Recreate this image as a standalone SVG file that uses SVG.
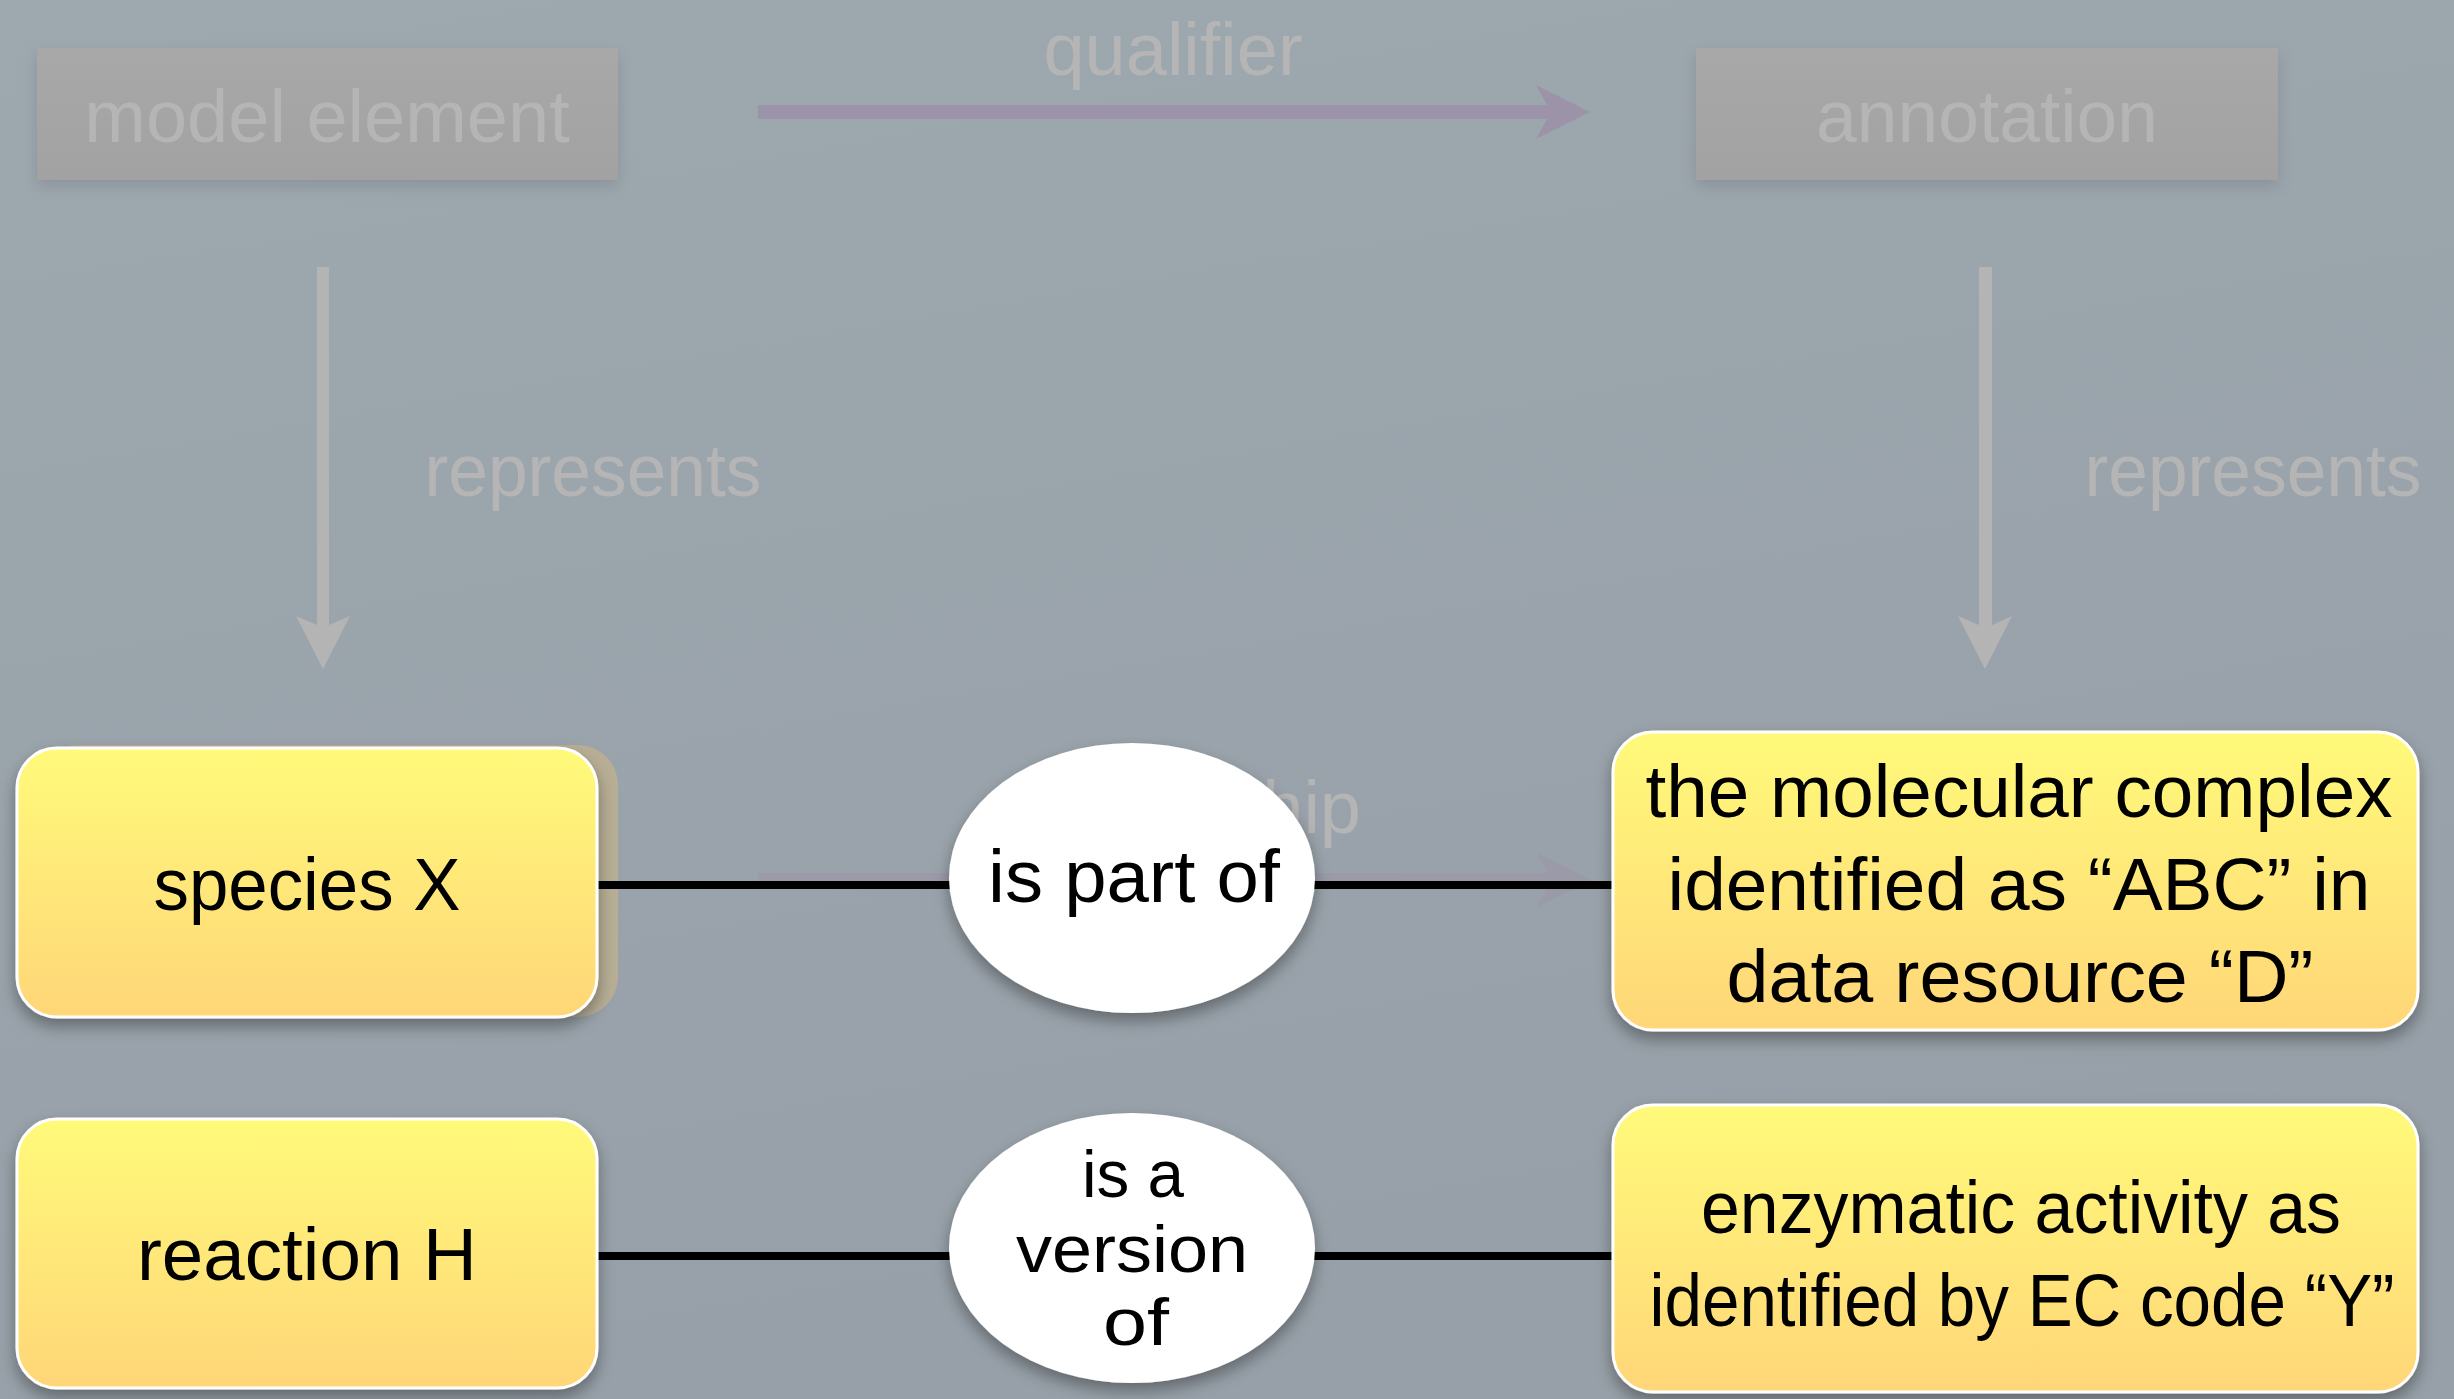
<svg xmlns="http://www.w3.org/2000/svg" width="2454" height="1399" viewBox="0 0 2454 1399">
<defs>
<linearGradient id="bg" x1="0" y1="0" x2="0.3" y2="1">
<stop offset="0" stop-color="#9ea8af"/>
<stop offset="1" stop-color="#97a0a8"/>
</linearGradient>
<linearGradient id="yel" x1="0" y1="0" x2="0" y2="1">
<stop offset="0" stop-color="#fffa7a"/>
<stop offset="1" stop-color="#ffd678"/>
</linearGradient>
<linearGradient id="gry" x1="0" y1="0" x2="0" y2="1">
<stop offset="0" stop-color="#a8a8a8"/>
<stop offset="1" stop-color="#a2a2a2"/>
</linearGradient>
<filter id="sh" x="-10%" y="-10%" width="120%" height="130%">
<feDropShadow dx="0" dy="8" stdDeviation="8" flood-color="#000" flood-opacity="0.35"/>
</filter>
<filter id="shl" x="-10%" y="-10%" width="120%" height="130%">
<feDropShadow dx="0" dy="6" stdDeviation="8" flood-color="#000" flood-opacity="0.12"/>
</filter>
<style>
text{font-family:"Liberation Sans",Arial,sans-serif;font-size:74px;text-anchor:middle}
.ghost{fill:#b5b5b5}
.blk{fill:#000}
.sm{font-size:66px}
.ybox{fill:url(#yel);stroke:#fff;stroke-width:3;filter:url(#sh)}
.gbox{fill:url(#gry);filter:url(#shl)}
.ell{fill:#fff;filter:url(#sh)}
.link{stroke:#000;stroke-width:8;fill:none}
.garrow{fill:#b4b4b4}
.parrow{fill:#9d93a8}
</style>
</defs>
<rect x="0" y="0" width="2454" height="1399" fill="url(#bg)"/>

<g id="faded">
<g id="model-element">
<rect class="gbox" x="37" y="48" width="581" height="132"/>
<text class="ghost" x="327" y="142">model element</text>
</g>
<g id="annotation">
<rect class="gbox" x="1696" y="48" width="582" height="132"/>
<text class="ghost" x="1987" y="142" textLength="342" lengthAdjust="spacingAndGlyphs">annotation</text>
</g>
<g id="faded-connectors">
<polygon class="parrow" points="758,105 1547,105 1536,85 1590,112 1536,139 1547,119 758,119"/>
<text class="ghost" x="1173" y="75">qualifier</text>
<polygon class="garrow" points="317,267 329,267 329,625 350,616 323,669 296,616 317,625"/>
<text class="ghost" x="593" y="496" textLength="337" lengthAdjust="spacingAndGlyphs">represents</text>
<polygon class="garrow" points="1979,267 1992,267 1992,625 2012,616 1985,669 1958,616 1979,625"/>
<text class="ghost" x="2253" y="496" textLength="337" lengthAdjust="spacingAndGlyphs">represents</text>
<polygon class="parrow" opacity="0.55" points="758,873 1548,873 1537,853 1591,880 1537,907 1548,887 758,887"/>
<text class="ghost" x="1361" y="833" style="text-anchor:end">relationship</text>
<rect x="37" y="745" width="581" height="272" rx="40" fill="#c2b28e" opacity="0.75"/>
</g>
</g>

<g id="connectors">
<line class="link" x1="597" y1="885" x2="960" y2="885"/>
<line class="link" x1="1305" y1="885" x2="1614" y2="885"/>
<line class="link" x1="597" y1="1256" x2="960" y2="1256"/>
<line class="link" x1="1305" y1="1256" x2="1614" y2="1256"/>
</g>

<g id="species-x">
<rect class="ybox" x="17" y="748" width="580" height="269" rx="40"/>
<text class="blk" x="307" y="910" textLength="307" lengthAdjust="spacingAndGlyphs">species X</text>
</g>
<g id="is-part-of">
<ellipse class="ell" cx="1132" cy="878" rx="183" ry="135"/>
<text class="blk" x="1134" y="902" textLength="292" lengthAdjust="spacingAndGlyphs">is part of</text>
</g>
<g id="molecular-complex">
<rect class="ybox" x="1613" y="732" width="805" height="298" rx="40"/>
<text class="blk" x="2019" y="817" textLength="747" lengthAdjust="spacingAndGlyphs">the molecular complex</text>
<text class="blk" x="2019" y="910" textLength="703" lengthAdjust="spacingAndGlyphs">identified as “ABC” in</text>
<text class="blk" x="2020" y="1002" textLength="587" lengthAdjust="spacingAndGlyphs">data resource “D”</text>
</g>
<g id="reaction-h">
<rect class="ybox" x="17" y="1119" width="580" height="269" rx="40"/>
<text class="blk" x="307" y="1280" textLength="340" lengthAdjust="spacingAndGlyphs">reaction H</text>
</g>
<g id="is-a-version-of">
<ellipse class="ell" cx="1132" cy="1248" rx="183" ry="135"/>
<text class="blk sm" x="1133" y="1197" textLength="102" lengthAdjust="spacingAndGlyphs">is a</text>
<text class="blk sm" x="1132" y="1272" textLength="232" lengthAdjust="spacingAndGlyphs">version</text>
<text class="blk sm" x="1136" y="1345" textLength="66" lengthAdjust="spacingAndGlyphs">of</text>
</g>
<g id="enzymatic-activity">
<rect class="ybox" x="1613" y="1105" width="805" height="287" rx="40"/>
<text class="blk" x="2021" y="1233" textLength="640" lengthAdjust="spacingAndGlyphs">enzymatic activity as</text>
<text class="blk" x="2022" y="1326" textLength="745" lengthAdjust="spacingAndGlyphs">identified by EC code “Y”</text>
</g>
</svg>
